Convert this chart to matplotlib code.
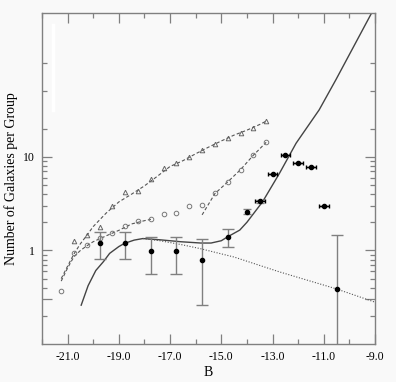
import matplotlib
matplotlib.use('Agg')
import matplotlib.pyplot as plt
from matplotlib.ticker import FixedLocator, FixedFormatter, NullFormatter

# open triangles and their dashed fit
tri_x = [-20.75, -20.25, -19.75, -19.25, -18.75, -18.25, -17.75, -17.25,
         -16.75, -16.25, -15.75, -15.25, -14.75, -14.25, -13.75, -13.25]
tri_y = [1.27, 1.47, 1.79, 3.0, 4.18, 4.3, 5.75, 7.55,
         8.67, 10.05, 11.9, 13.6, 16.1, 18.2, 20.6, 24.1]
tri_fit_x = [-21.25, -21.0, -20.75, -20.5, -20.25, -20.0, -19.5, -19.0, -18.5,
             -18.0, -17.5, -17.0, -16.5, -16.0, -15.5, -15.0, -14.5, -14.0, -13.5, -13.25]
tri_fit_y = [0.5, 0.68, 0.92, 1.18, 1.45, 1.8, 2.5, 3.3, 4.0,
             4.9, 6.2, 7.9, 9.1, 10.8, 12.7, 14.8, 17.1, 19.3, 22.2, 24.1]

# open circles and their two dashed segments
circ_x = [-21.25, -20.75, -20.25, -19.75, -19.25, -18.75, -18.25, -17.75, -17.25,
          -16.75, -16.25, -15.75, -15.25, -14.75, -14.25, -13.75, -13.25]
circ_y = [0.373, 0.93, 1.14, 1.36, 1.52, 1.83, 2.04, 2.15, 2.43,
          2.54, 2.97, 3.05, 4.08, 5.41, 7.24, 10.4, 14.3]
circ_fit1_x = [-21.25, -21.0, -20.75, -20.5, -20.25, -20.0, -19.5, -19.0, -18.5, -18.0, -17.75]
circ_fit1_y = [0.47, 0.65, 0.86, 1.0, 1.12, 1.24, 1.43, 1.64, 1.92, 2.08, 2.15]
circ_fit2_x = [-15.75, -15.25, -14.75, -14.25, -13.75, -13.25]
circ_fit2_y = [2.4, 4.05, 5.4, 7.3, 10.4, 14.3]

# filled points with grey error bars
err_x = [-19.75, -18.75, -17.75, -16.75, -15.75, -14.75, -10.5]
err_y = [1.19, 1.19, 0.99, 0.99, 0.79, 1.40, 0.39]
err_lo = [0.82, 0.82, 0.56, 0.56, 0.26, 1.08, 0.05]
err_hi = [1.56, 1.56, 1.40, 1.40, 1.33, 1.69, 1.46]

# bright-end filled points
br_x = [-14.0, -13.5, -13.0, -12.5, -12.0, -11.5, -11.0]
br_y = [2.59, 3.37, 6.56, 10.5, 8.54, 7.85, 2.96]
br_xerr = [0.0, 0.2, 0.17, 0.17, 0.19, 0.19, 0.2]
br_lo = [2.43, 3.25, 6.56, 10.5, 8.54, 7.85, 2.96]
br_hi = [2.75, 3.5, 6.56, 10.5, 8.54, 7.85, 2.96]

# model curves
model_x = [-20.47, -20.2, -19.9, -19.6, -19.36, -19.0, -18.78, -18.4, -18.06, -17.4,
           -16.6, -15.8, -15.4, -15.0, -14.75, -14.28, -14.0, -13.39, -12.73, -12.08,
           -11.18, -10.53, -9.12]
model_y = [0.26, 0.42, 0.61, 0.76, 0.93, 1.10, 1.19, 1.29, 1.34, 1.30,
           1.24, 1.20, 1.20, 1.27, 1.40, 1.65, 2.0, 3.31, 6.67, 14.0,
           31.8, 66.5, 350]
dot_x = [-18.06, -17.4, -16.6, -15.85, -14.5, -12.73, -10.53, -9.0]
dot_y = [1.34, 1.27, 1.16, 1.05, 0.85, 0.59, 0.39, 0.28]

grey = '#808080'
plt.rcParams['font.family'] = ['Liberation Serif', 'DejaVu Serif']

fig = plt.figure(figsize=(3.96, 3.82), dpi=100, facecolor='#f9f9f9')
ax = fig.add_axes([42/396, 1 - 344/382, 333/396, 331/382])
ax.set_facecolor('#f9f9f9')
ax.set_yscale('log')

ax.plot(tri_fit_x, tri_fit_y, color='#555555', ls=(0, (3, 2)), lw=0.8)
ax.plot(tri_x, tri_y, ls='none', marker='^', ms=3.3, mfc='none', mec='#666666', mew=0.7)
ax.plot(circ_fit1_x, circ_fit1_y, color='#555555', ls=(0, (3, 2)), lw=0.8)
ax.plot(circ_fit2_x, circ_fit2_y, color='#555555', ls=(0, (3, 2)), lw=0.8)
ax.plot(circ_x, circ_y, ls='none', marker='o', ms=3.3, mfc='none', mec='#777777', mew=0.7)

ax.plot(model_x, model_y, color='#444444', lw=1.0)
ax.plot(dot_x, dot_y, color='#555555', ls=(0, (1, 1.5)), lw=0.8)

yl = [y - lo for y, lo in zip(err_y, err_lo)]
yh = [hi - y for y, hi in zip(err_y, err_hi)]
ax.errorbar(err_x, err_y, yerr=[yl, yh], fmt='o', ms=3, color='black',
            ecolor=grey, elinewidth=1.0, capsize=4, capthick=1.0)

bl = [y - lo for y, lo in zip(br_y, br_lo)]
bh = [hi - y for y, hi in zip(br_y, br_hi)]
ax.errorbar(br_x, br_y, yerr=[bl, bh], fmt='o', ms=3, color='black',
            ecolor=grey, elinewidth=1.0, capsize=3, capthick=1.0)
ax.errorbar(br_x, br_y, xerr=br_xerr, fmt='none', ecolor='black',
            elinewidth=1.0, capsize=1.5, capthick=1.0)

# small white stripe near the top-left corner
ax.plot([0.033, 0.033], [0.707, 0.964], transform=ax.transAxes, color='white', lw=2.5)

ax.set_xlim(-22, -9)
ax.set_ylim(0.1, 345)
ax.set_xticks([-21, -19, -17, -15, -13, -11, -9])
ax.set_xticklabels(['-21.0', '-19.0', '-17.0', '-15.0', '-13.0', '-11.0', '-9.0'])
ax.set_xticks([-22, -20, -18, -16, -14, -12, -10], minor=True)
ax.yaxis.set_major_locator(FixedLocator([0.3, 1, 10]))
ax.yaxis.set_major_formatter(FixedFormatter(['', '1', '10']))
ax.yaxis.set_minor_locator(FixedLocator([0.2, 0.4, 0.5, 0.6, 0.7, 0.8, 0.9,
                                         2, 3, 4, 5, 6, 7, 8, 9, 20, 50, 100]))
ax.yaxis.set_minor_formatter(NullFormatter())

ax.tick_params(which='both', direction='in', top=True, right=True, color=grey,
               labelsize=8.5, width=0.9)
ax.tick_params(which='major', length=7, pad=5)
ax.tick_params(which='minor', length=3.5)
for s in ax.spines.values():
    s.set_color(grey)
    s.set_linewidth(1.0)

ax.set_xlabel('B', fontsize=10, labelpad=2)
ax.set_ylabel('Number of Galaxies per Group', fontsize=10, labelpad=4)

fig.savefig('out.png', dpi=100, facecolor=fig.get_facecolor())
